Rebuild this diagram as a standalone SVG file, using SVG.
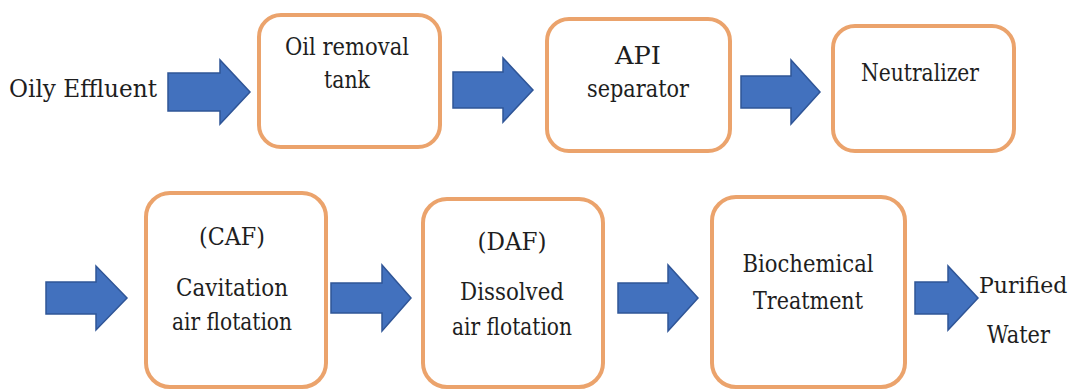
<svg xmlns="http://www.w3.org/2000/svg" width="1072" height="391" viewBox="0 0 1072 391">
<style>
.box{fill:#ffffff;stroke:#EBA36C;stroke-width:4}
.arr{fill:#4271BE;stroke:#2F5597;stroke-width:1.5;stroke-linejoin:miter}
.t{font-family:'DejaVu Serif',serif;font-size:24px;fill:#1e1e1e}
.c{text-anchor:middle}
</style>
<rect width="1072" height="391" fill="#ffffff"/>
<g id="connectors">
<polygon class="arr" points="168,73 220,73 220,60 250,92 220,124 220,111 168,111"/>
<polygon class="arr" points="453,72 503,72 503,58 533,90 503,122 503,108 453,108"/>
<polygon class="arr" points="741,76 791,76 791,60 820,92 791,124 791,108 741,108"/>
<polygon class="arr" points="46,282 96,282 96,266 127,298 96,330 96,314 46,314"/>
<polygon class="arr" points="331,283 382,283 382,265 411,298 382,331 382,313 331,313"/>
<polygon class="arr" points="618,283 668,283 668,265 698,298 668,331 668,313 618,313"/>
<polygon class="arr" points="915,282 948,282 948,266 978,298 948,330 948,314 915,314"/>
</g>
<g id="oily-effluent"><text class="t" x="9" y="97" textLength="148" lengthAdjust="spacingAndGlyphs">Oily Effluent</text></g>
<g id="oil-removal-tank">
<rect class="box" x="259" y="15" width="181" height="132" rx="22"/>
<text class="t c" x="347" y="55" textLength="124" lengthAdjust="spacingAndGlyphs">Oil removal</text>
<text class="t c" x="347" y="88" textLength="46" lengthAdjust="spacingAndGlyphs">tank</text>
</g>
<g id="api-separator">
<rect class="box" x="547" y="19" width="183" height="132" rx="22"/>
<text class="t c" x="638" y="64" textLength="46" lengthAdjust="spacingAndGlyphs">API</text>
<text class="t c" x="638" y="97" textLength="102" lengthAdjust="spacingAndGlyphs">separator</text>
</g>
<g id="neutralizer">
<rect class="box" x="833" y="26" width="181" height="125" rx="22"/>
<text class="t c" x="920" y="81" textLength="118" lengthAdjust="spacingAndGlyphs">Neutralizer</text>
</g>
<g id="caf">
<rect class="box" x="146" y="193" width="180" height="194" rx="24"/>
<text class="t c" x="232" y="245" textLength="66" lengthAdjust="spacingAndGlyphs">(CAF)</text>
<text class="t c" x="232" y="296" textLength="112" lengthAdjust="spacingAndGlyphs">Cavitation</text>
<text class="t c" x="232" y="330" textLength="120" lengthAdjust="spacingAndGlyphs">air flotation</text>
</g>
<g id="daf">
<rect class="box" x="423" y="199" width="180" height="188" rx="24"/>
<text class="t c" x="512" y="250" textLength="69" lengthAdjust="spacingAndGlyphs">(DAF)</text>
<text class="t c" x="512" y="300" textLength="104" lengthAdjust="spacingAndGlyphs">Dissolved</text>
<text class="t c" x="512" y="335" textLength="120" lengthAdjust="spacingAndGlyphs">air flotation</text>
</g>
<g id="biochemical">
<rect class="box" x="712" y="197" width="193" height="190" rx="24"/>
<text class="t c" x="808" y="272" textLength="131" lengthAdjust="spacingAndGlyphs">Biochemical</text>
<text class="t c" x="808" y="309" textLength="110" lengthAdjust="spacingAndGlyphs">Treatment</text>
</g>
<g id="purified-water">
<text class="t" x="979" y="293" style="font-size:22px">Purified</text>
<text class="t" x="987" y="343" textLength="63" lengthAdjust="spacingAndGlyphs">Water</text>
</g>
</svg>
